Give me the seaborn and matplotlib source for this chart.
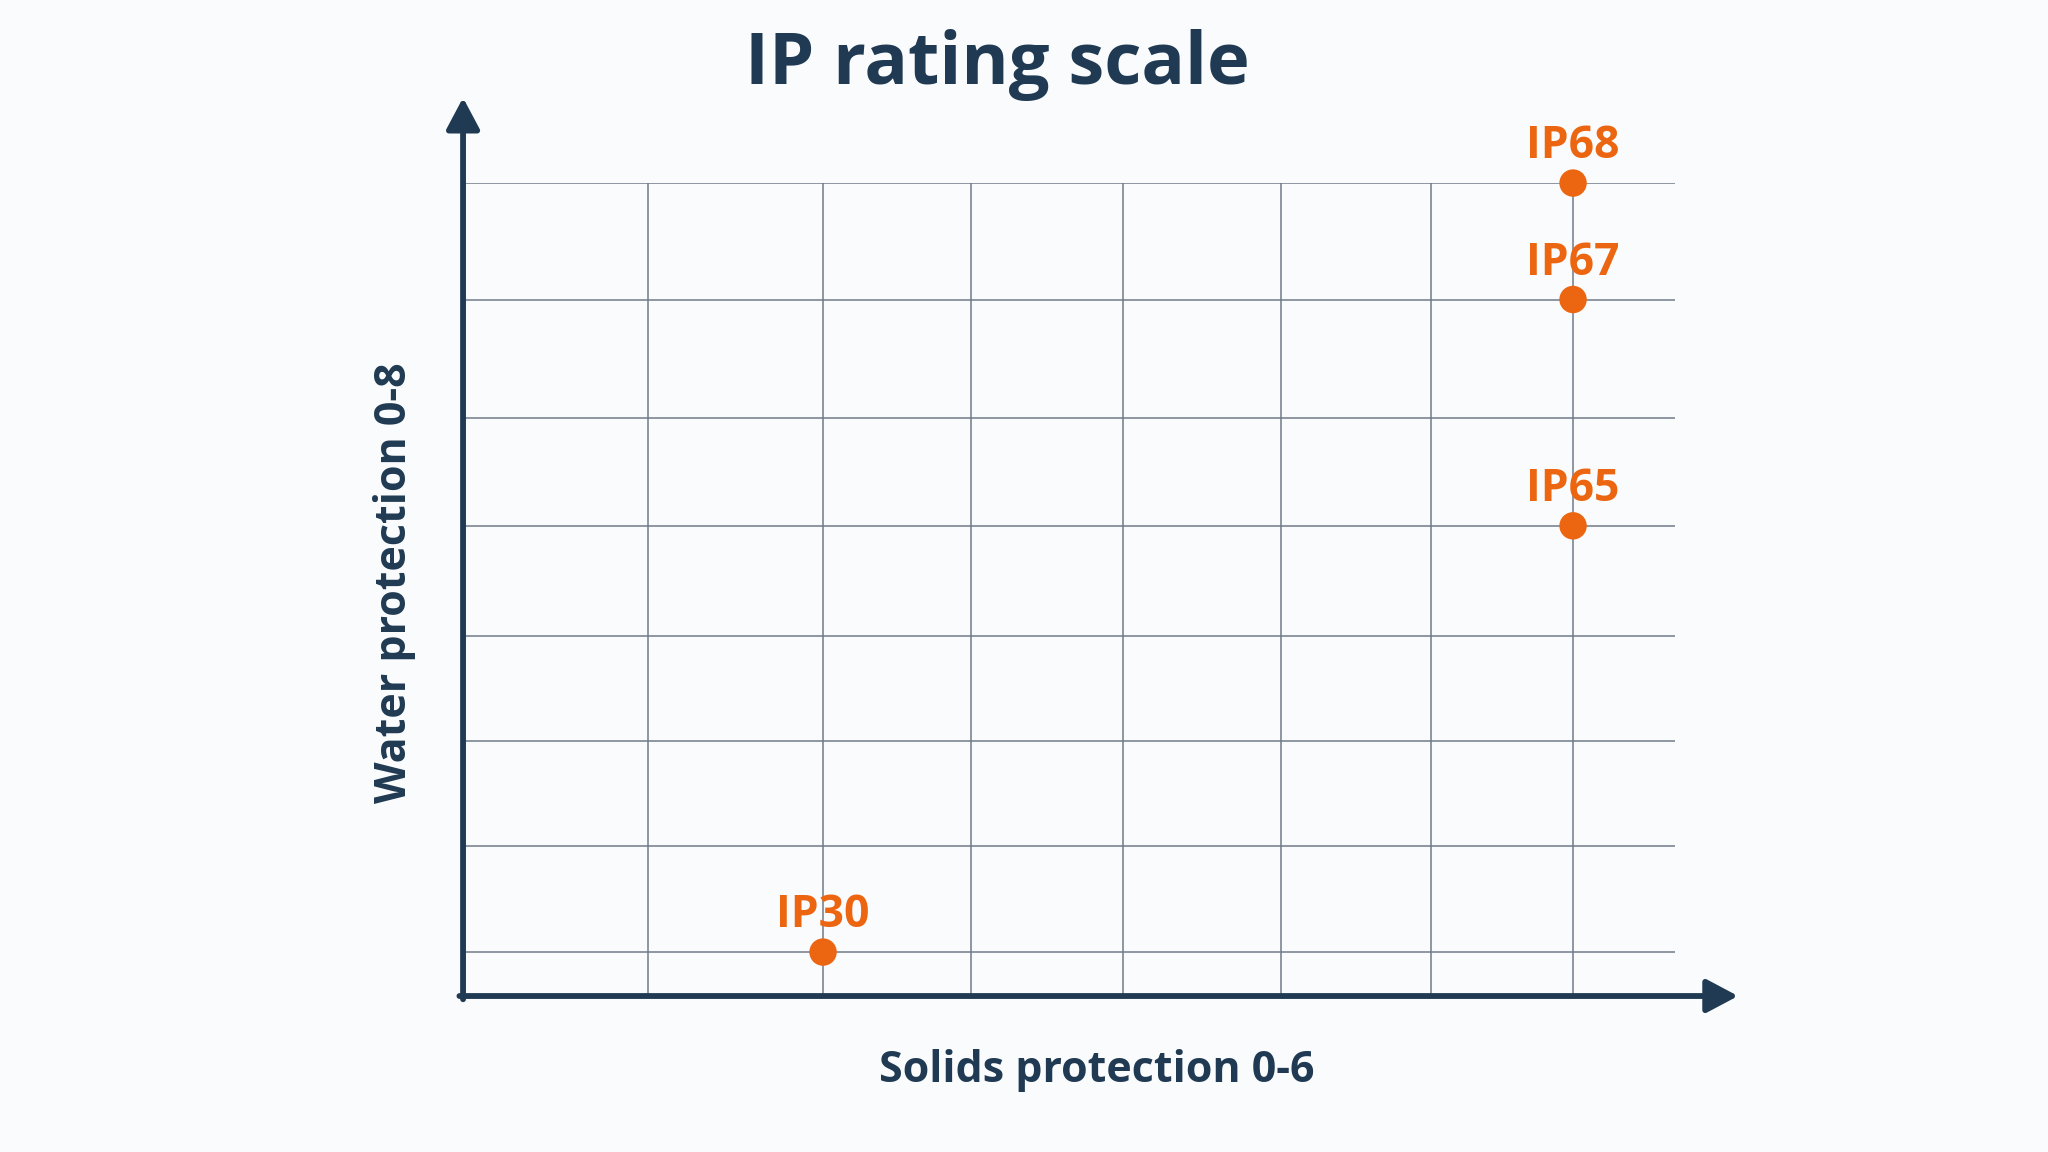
import numpy as np
import pandas as pd
import seaborn as sns
import matplotlib
matplotlib.use("Agg")
import matplotlib.pyplot as plt

# data
ratings = ["IP30", "IP65", "IP67", "IP68"]
solids = [3, 6, 6, 6]
water = [0, 5, 7, 8]

df = pd.DataFrame({"rating": ratings, "solids": solids, "water": water})

NAVY = "#1f3a52"
ORANGE = "#ec6611"
GRID = "#6f7b89"
BG = "#fafbfc"

sns.set_theme(style="white")
plt.rcParams["font.family"] = ["Open Sans", "DejaVu Sans"]

fig = plt.figure(figsize=(20.48, 11.52), dpi=100, facecolor=BG)
ax = fig.add_axes([0.2261, 0.1354, 0.5918, 0.7057])
ax.set_facecolor(BG)

sns.scatterplot(data=df, x="solids", y="water", color=ORANGE, s=390,
                edgecolor="none", zorder=5, clip_on=False, ax=ax)

# the water axis in the picture is not evenly spaced
w_anchor = [-5, 0, 5, 7, 8, 12]
r_anchor = [-4, 0, 3.88, 5.94, 7, 11]
fwd = lambda v: np.interp(v, w_anchor, r_anchor)
inv = lambda r: np.interp(r, r_anchor, w_anchor)
ax.set_yscale("function", functions=(fwd, inv))

grid_rows = [0, 0.97, 1.92, 2.88, 3.88, 4.86, 5.94, 7]
grid_cols = [2.3, 3.0, 3.59, 4.2, 4.83, 5.43, 6.0]

ax.set_xlim(1.56, 6.408)
ax.set_ylim(-0.5, 8)
ax.set_xticks(grid_cols)
ax.set_yticks(inv(np.array(grid_rows)))
ax.grid(True, color=GRID, linewidth=1.1)
ax.tick_params(length=0, labelbottom=False, labelleft=False)
for sp in ax.spines.values():
    sp.set_visible(False)
ax.set_xlabel("")
ax.set_ylabel("")

# arrowed axes
arrow = dict(arrowstyle="-|>,head_length=1.6,head_width=0.85", color=NAVY,
             lw=4.2, shrinkA=0, shrinkB=0)
ax.annotate("", xy=(1.052, 0), xytext=(-0.003, 0), xycoords="axes fraction",
            arrowprops=arrow, annotation_clip=False)
ax.annotate("", xy=(0, 1.105), xytext=(0, -0.004), xycoords="axes fraction",
            arrowprops=arrow, annotation_clip=False)

for r, x, y in zip(ratings, solids, water):
    ax.annotate(r, (x, y), xytext=(0, 18), textcoords="offset points",
                ha="center", va="baseline", fontsize=32, fontweight="bold",
                color=ORANGE, zorder=6, annotation_clip=False)

fig.text(0.487, 0.927, "IP rating scale", ha="center", va="baseline",
         fontsize=52, fontweight="bold", color=NAVY)
fig.text(0.5356, 0.0605, "Solids protection 0-6", ha="center", va="baseline",
         fontsize=31, fontweight="bold", color=NAVY)
fig.text(0.1925, 0.494, "Water protection 0-8", ha="center", va="center",
         rotation=90, fontsize=31, fontweight="bold", color=NAVY)

fig.savefig("out.png", dpi=100, facecolor=BG)
